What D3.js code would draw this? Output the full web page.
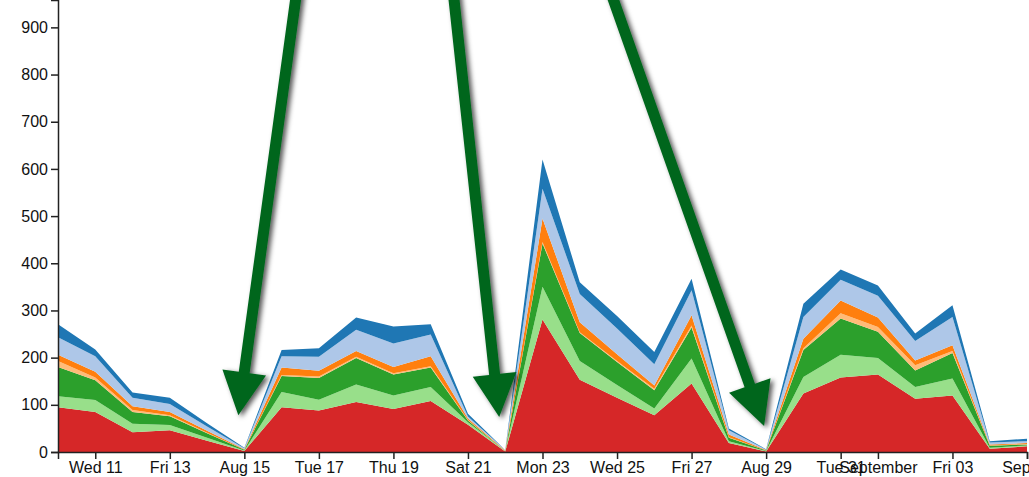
<!DOCTYPE html>
<html>
<head>
<meta charset="utf-8">
<script src="https://cdn.jsdelivr.net/npm/d3@7"></script>
<style>
  body { margin: 0; background: #fff; }
  svg { display: block; font-family: "Liberation Sans", Arial, Helvetica, sans-serif; }
</style>
</head>
<body>
<svg id="chart" width="1029" height="477"></svg>
<script>
// Daily counts, 10 Aug – 5 Sep 2021, one array per stacked layer (bottom to top)
const days = [
  "2021-08-10","2021-08-11","2021-08-12","2021-08-13","2021-08-14","2021-08-15","2021-08-16",
  "2021-08-17","2021-08-18","2021-08-19","2021-08-20","2021-08-21","2021-08-22","2021-08-23",
  "2021-08-24","2021-08-25","2021-08-26","2021-08-27","2021-08-28","2021-08-29","2021-08-30",
  "2021-08-31","2021-09-01","2021-09-02","2021-09-03","2021-09-04","2021-09-05"
];
const redLayer        = [95, 85, 42, 46, 24, 2, 95, 88, 106, 91, 108, 58, 1, 281, 153, 115, 78, 145, 19, 1, 124, 158, 164, 113, 120, 7, 12];
const lightGreenLayer = [23, 25, 18, 11, 6, 1, 32, 23, 37, 29, 30, 5, 1, 69, 40, 27, 14, 53, 4, 1, 35, 48, 35, 25, 36, 2, 2];
const greenLayer      = [62, 42, 25, 19, 10, 2, 34, 46, 56, 44, 41, 4, 0, 92, 59, 49, 39, 66, 7, 1, 57, 77, 56, 35, 54, 4, 2];
const lightOrangeLayer= [13, 6, 4, 2, 1, 0, 2, 3, 3, 3, 3, 1, 0, 3, 2, 2, 3, 4, 1, 0, 4, 11, 10, 11, 4, 1, 1];
const orangeLayer     = [13, 12, 8, 7, 4, 1, 16, 12, 12, 13, 21, 3, 1, 50, 21, 14, 7, 22, 6, 1, 20, 27, 20, 10, 12, 2, 2];
const lightBlueLayer  = [37, 33, 18, 17, 9, 2, 24, 30, 45, 50, 46, 4, 1, 63, 60, 55, 45, 53, 9, 1, 46, 44, 46, 41, 60, 4, 4];
const blueLayer       = [28, 14, 11, 13, 7, 1, 13, 18, 26, 36, 22, 6, 0, 62, 25, 26, 26, 24, 4, 1, 28, 22, 22, 16, 25, 3, 5];

const layerKeys   = ["red", "lightGreen", "green", "lightOrange", "orange", "lightBlue", "blue"];
const layerColors = ["#d62728", "#98df8a", "#2ca02c", "#ffbb78", "#ff7f0e", "#aec7e8", "#1f77b4"];
const layerValues = [redLayer, lightGreenLayer, greenLayer, lightOrangeLayer, orangeLayer, lightBlueLayer, blueLayer];

// Callout arrows pointing at the Sunday dips
const arrowDays   = ["2021-08-15", "2021-08-22", "2021-08-29"];
const arrowValues = [78, 74, 55];
const arrowTipDx  = [-6, -6, -2];
const arrowTailDx = [65, -62, -188];

const parseDay = d3.timeParse("%Y-%m-%d");
const table = days.map((d, i) => {
  const row = { date: parseDay(d) };
  layerKeys.forEach((k, j) => { row[k] = layerValues[j][i]; });
  return row;
});

const svg = d3.select("#chart");
const plotLeft = 58, plotRight = 1027, plotBottom = 452, plotTop = 0;

const x = d3.scaleTime()
  .domain(d3.extent(table, d => d.date))
  .range([plotLeft, plotRight]);
const y = d3.scaleLinear()
  .domain([0, 958])
  .range([plotBottom, plotTop]);

const series = d3.stack().keys(layerKeys)(table);
const area = d3.area()
  .x(d => x(d.data.date))
  .y0(d => y(d[0]))
  .y1(d => y(d[1]));

svg.append("g")
  .selectAll("path")
  .data(series)
  .join("path")
  .attr("fill", (d, i) => layerColors[i])
  .attr("d", area);

// Axes
const xAxis = svg.append("g")
  .attr("transform", `translate(0,${plotBottom})`)
  .call(d3.axisBottom(x).ticks(d3.timeDay.every(2)).tickSize(7).tickPadding(3));
const yAxis = svg.append("g")
  .attr("transform", `translate(${plotLeft},0)`)
  .call(d3.axisLeft(y).ticks(10).tickSize(7).tickPadding(3));

[xAxis, yAxis].forEach(g => {
  g.attr("font-size", 16).attr("font-family", "'Liberation Sans', Arial, Helvetica, sans-serif");
  g.selectAll("path, line").attr("stroke", "#222").attr("stroke-width", 1.5);
  g.selectAll("text").attr("fill", "#111");
});

// Drop shadow for the arrows
const defs = svg.append("defs");
const shadow = defs.append("filter")
  .attr("id", "arrow-shadow")
  .attr("x", "-50%").attr("y", "-50%").attr("width", "200%").attr("height", "200%");
shadow.append("feDropShadow")
  .attr("dx", 3).attr("dy", 2).attr("stdDeviation", 2.5)
  .attr("flood-color", "#000").attr("flood-opacity", 0.65);

const shaftHalf = 5.5, headHalf = 22, headLen = 43;
function arrowPath(x0, y0, x1, y1) {
  const dx = x1 - x0, dy = y1 - y0, len = Math.hypot(dx, dy);
  const ux = dx / len, uy = dy / len, nx = -uy, ny = ux;
  const bx = x1 - ux * headLen, by = y1 - uy * headLen;
  const pts = [
    [x0 + nx * shaftHalf, y0 + ny * shaftHalf],
    [bx + nx * shaftHalf, by + ny * shaftHalf],
    [bx + nx * headHalf, by + ny * headHalf],
    [x1, y1],
    [bx - nx * headHalf, by - ny * headHalf],
    [bx - nx * shaftHalf, by - ny * shaftHalf],
    [x0 - nx * shaftHalf, y0 - ny * shaftHalf]
  ];
  return "M" + pts.map(p => p.join(",")).join("L") + "Z";
}

svg.append("g")
  .selectAll("path")
  .data(arrowDays.map((d, i) => ({ date: parseDay(d), value: arrowValues[i], tipDx: arrowTipDx[i], tailDx: arrowTailDx[i] })))
  .join("path")
  .attr("fill", "#00661f")
  .attr("filter", "url(#arrow-shadow)")
  .attr("d", d => arrowPath(x(d.date) + d.tailDx, -100, x(d.date) + d.tipDx, y(d.value)));
</script>
</body>
</html>
